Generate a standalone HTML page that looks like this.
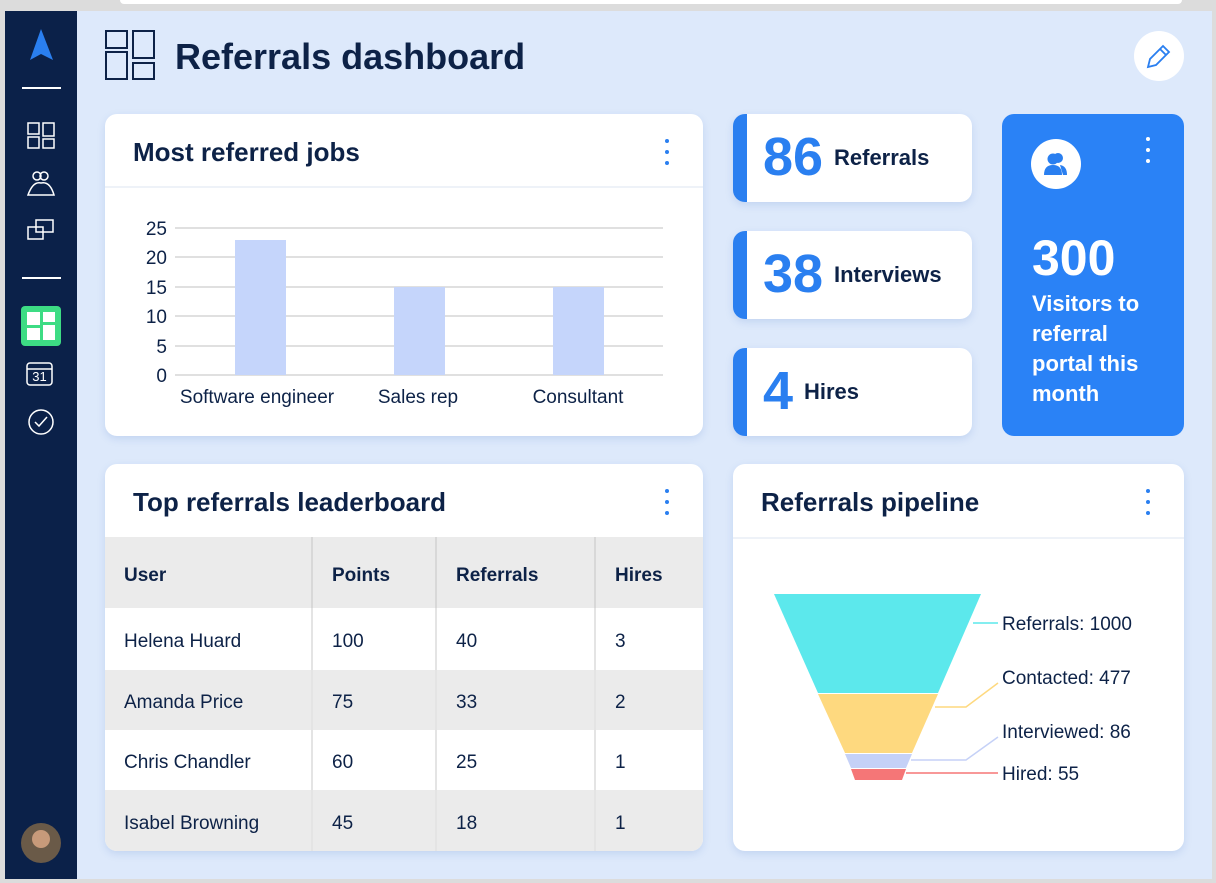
<!DOCTYPE html>
<html><head><style>
*{margin:0;padding:0;box-sizing:border-box}
body{width:1216px;height:883px;background:#dcdcdc;position:relative;overflow:hidden;font-family:"Liberation Sans",sans-serif;color:#0d2247}
.abs{position:absolute}
.card{position:absolute;background:#fff;border-radius:12px;box-shadow:0 3px 8px rgba(80,120,200,.18);overflow:hidden}
.hd{position:absolute;left:28px;font-size:26px;font-weight:600;color:#0d2247}
.dots{position:absolute;width:4px}
.dots i{display:block;width:4px;height:4px;border-radius:50%;background:#2a7ff0;margin-bottom:7px}
.stat{position:absolute;left:733px;width:239px;height:88px;background:#fff;border-radius:12px;border-left:14px solid #2a7ff0;box-shadow:0 3px 8px rgba(80,120,200,.18)}
.stat b{position:absolute;left:16px;top:12px;font-size:54px;font-weight:600;color:#2a7ff0}
.stat span{position:absolute;top:31px;font-size:22px;font-weight:600;color:#0d2247}
td{font-size:19px;color:#0d2247;padding-left:19px;padding-top:6px}
</style></head><body>
<div class="abs" style="left:120px;top:0;width:1062px;height:4px;background:#fff;border-radius:0 0 6px 6px"></div>
<div class="abs" style="left:77px;top:11px;width:1135px;height:868px;background:#dde9fb"></div>
<div class="abs" style="left:5px;top:11px;width:72px;height:868px;background:#0b2149"></div>
<svg class="abs" style="left:5px;top:11px" width="72" height="868">
<polygon points="36,18 25,49 36,43 48,49" fill="#2a7ff0"/>
<line x1="17" y1="77" x2="56" y2="77" stroke="#fff" stroke-width="2"/>
<g fill="none" stroke="#fff" stroke-width="1.5">
<rect x="23" y="112" width="11" height="11"/><rect x="23" y="126" width="11" height="11"/><rect x="38" y="112" width="11" height="13"/><rect x="38" y="128" width="11" height="9"/>
<circle cx="32" cy="165" r="4"/><circle cx="39" cy="165" r="4"/><path d="M23 184 Q28 170 36 172 Q45 170 49 184 Z"/>
<rect x="23" y="216" width="15" height="12"/><rect x="31" y="209" width="17" height="12"/>
<rect x="22" y="352" width="25" height="22" rx="3"/><line x1="22" y1="358" x2="47" y2="358"/>
<circle cx="36" cy="411" r="12"/><polyline points="30,411 34,415 42,406"/>
</g>
<text x="34.5" y="370" font-size="13" fill="#fff" text-anchor="middle" font-family="Liberation Sans">31</text>
<line x1="17" y1="267" x2="56" y2="267" stroke="#fff" stroke-width="2"/>
<rect x="16" y="295" width="40" height="40" rx="4" fill="#3ddc84"/>
<g fill="#fff"><rect x="22" y="301" width="13" height="13"/><rect x="38" y="301" width="12" height="10"/><rect x="22" y="317" width="13" height="12"/><rect x="38" y="314" width="12" height="15"/></g>
<circle cx="36" cy="832" r="20" fill="#6a5a48"/><circle cx="36" cy="828" r="9" fill="#c79a7a"/>
</svg>
<svg class="abs" style="left:105px;top:30px" width="52" height="52" fill="none" stroke="#0d2247" stroke-width="2">
<rect x="1" y="1" width="21" height="17"/><rect x="1" y="22" width="21" height="27"/><rect x="28" y="1" width="21" height="27"/><rect x="28" y="33" width="21" height="16"/>
</svg>
<div class="abs" style="left:175px;top:36px;font-size:36px;font-weight:600">Referrals dashboard</div>
<div class="abs" style="left:1134px;top:31px;width:50px;height:50px;border-radius:50%;background:#fff"></div>
<svg class="abs" style="left:1146px;top:43px" width="26" height="26" fill="none" stroke="#2a7ff0" stroke-width="1.8"><path d="M2 24 L4 16 L17 3 L23 9 L10 22 Z M14 6 L20 12"/></svg>
<div class="card" style="left:105px;top:114px;width:598px;height:322px">
<div class="hd" style="top:23px">Most referred jobs</div>
<div class="dots" style="left:560px;top:25px"><i></i><i></i><i></i></div>
<div class="abs" style="left:0;top:72px;width:598px;height:2px;background:#eef2f8"></div>
<svg class="abs" style="left:0;top:0" width="598" height="322" font-family="Liberation Sans" font-size="19" fill="#0d2247">
<g stroke="#d5d5d5" stroke-width="1.5">
<line x1="70" x2="558" y1="114" y2="114"/><line x1="70" x2="558" y1="143" y2="143"/><line x1="70" x2="558" y1="173" y2="173"/><line x1="70" x2="558" y1="202" y2="202"/><line x1="70" x2="558" y1="232" y2="232"/><line x1="70" x2="558" y1="261" y2="261"/>
</g>
<g text-anchor="end"><text x="62" y="121">25</text><text x="62" y="150">20</text><text x="62" y="180">15</text><text x="62" y="209">10</text><text x="62" y="239">5</text><text x="62" y="268">0</text></g>
<g fill="#c5d5fb"><rect x="130" y="126" width="51" height="135"/><rect x="289" y="173" width="51" height="88"/><rect x="448" y="173" width="51" height="88"/></g>
<g text-anchor="middle"><text x="152" y="289">Software engineer</text><text x="313" y="289">Sales rep</text><text x="473" y="289">Consultant</text></g>
</svg>
</div>
<div class="stat" style="top:114px"><b>86</b><span style="left:87px">Referrals</span></div>
<div class="stat" style="top:231px"><b>38</b><span style="left:87px">Interviews</span></div>
<div class="stat" style="top:348px"><b>4</b><span style="left:57px">Hires</span></div>
<div class="abs" style="left:1002px;top:114px;width:182px;height:322px;background:#2a82f6;border-radius:12px;color:#fff">
<div class="abs" style="left:29px;top:25px;width:50px;height:50px;border-radius:50%;background:#fff"></div>
<svg class="abs" style="left:40px;top:36px" width="28" height="28" fill="#2a7ff0"><circle cx="16" cy="8" r="5"/><circle cx="11" cy="9" r="5.5"/><path d="M2 25 Q2 15 11 15 Q20 15 20 25Z"/><path d="M18 15 Q25 16 25 25 H21Z"/></svg>
<div class="dots" style="left:144px;top:23px"><i style="background:#fff"></i><i style="background:#fff"></i><i style="background:#fff"></i></div>
<div class="abs" style="left:30px;top:115px;font-size:50px;font-weight:600">300</div>
<div class="abs" style="left:30px;top:175px;font-size:22px;font-weight:600;line-height:30px">Visitors to<br>referral<br>portal this<br>month</div>
</div>
<div class="card" style="left:105px;top:464px;width:598px;height:387px">
<div class="hd" style="top:23px">Top referrals leaderboard</div>
<div class="dots" style="left:560px;top:25px"><i></i><i></i><i></i></div>
<table class="abs" style="left:0;top:73px;width:598px;border-collapse:collapse">
<tr style="height:71px;background:#ebebeb"><td style="width:207px;font-weight:600">User</td><td style="width:124px;font-weight:600;border-left:2px solid #d8d8d8">Points</td><td style="width:159px;font-weight:600;border-left:2px solid #d8d8d8">Referrals</td><td style="font-weight:600;border-left:2px solid #d8d8d8">Hires</td></tr>
<tr style="height:62px"><td>Helena Huard</td><td style="border-left:2px solid #e4e4e4">100</td><td style="border-left:2px solid #e4e4e4">40</td><td style="border-left:2px solid #e4e4e4">3</td></tr>
<tr style="height:60px;background:#ebebeb"><td>Amanda Price</td><td style="border-left:2px solid #e4e4e4">75</td><td style="border-left:2px solid #e4e4e4">33</td><td style="border-left:2px solid #e4e4e4">2</td></tr>
<tr style="height:60px"><td>Chris Chandler</td><td style="border-left:2px solid #e4e4e4">60</td><td style="border-left:2px solid #e4e4e4">25</td><td style="border-left:2px solid #e4e4e4">1</td></tr>
<tr style="height:61px;background:#ebebeb"><td>Isabel Browning</td><td style="border-left:2px solid #e4e4e4">45</td><td style="border-left:2px solid #e4e4e4">18</td><td style="border-left:2px solid #e4e4e4">1</td></tr>
</table>
</div>
<div class="card" style="left:733px;top:464px;width:451px;height:387px">
<div class="hd" style="top:23px">Referrals pipeline</div>
<div class="dots" style="left:413px;top:25px"><i></i><i></i><i></i></div>
<div class="abs" style="left:0;top:73px;width:451px;height:2px;background:#eef2f8"></div>
<svg class="abs" style="left:0;top:0" width="451" height="387" font-family="Liberation Sans" font-size="19" fill="#0d2247">
<polygon points="41,130 248,130 205,229 85,229" fill="#5ce8ec"/>
<polygon points="85,230 205,230 179,289 112,289" fill="#fed97f"/>
<polygon points="112,290 179,290 173,304 118,304" fill="#c5d1f7"/>
<polygon points="118,305 173,305 169,316 122,316" fill="#f57677"/>
<polyline points="240,159 265,159" stroke="#5ce8ec" fill="none" stroke-width="1.5"/>
<polyline points="202,243 233,243 265,219" stroke="#fed97f" fill="none" stroke-width="1.5"/>
<polyline points="178,296 233,296 265,273" stroke="#c5d1f7" fill="none" stroke-width="1.5"/>
<polyline points="173,309 265,309" stroke="#f57677" fill="none" stroke-width="1.5"/>
<text x="269" y="166">Referrals: 1000</text><text x="269" y="220">Contacted: 477</text><text x="269" y="274">Interviewed: 86</text><text x="269" y="316">Hired: 55</text>
</svg>
</div>
</body></html>
